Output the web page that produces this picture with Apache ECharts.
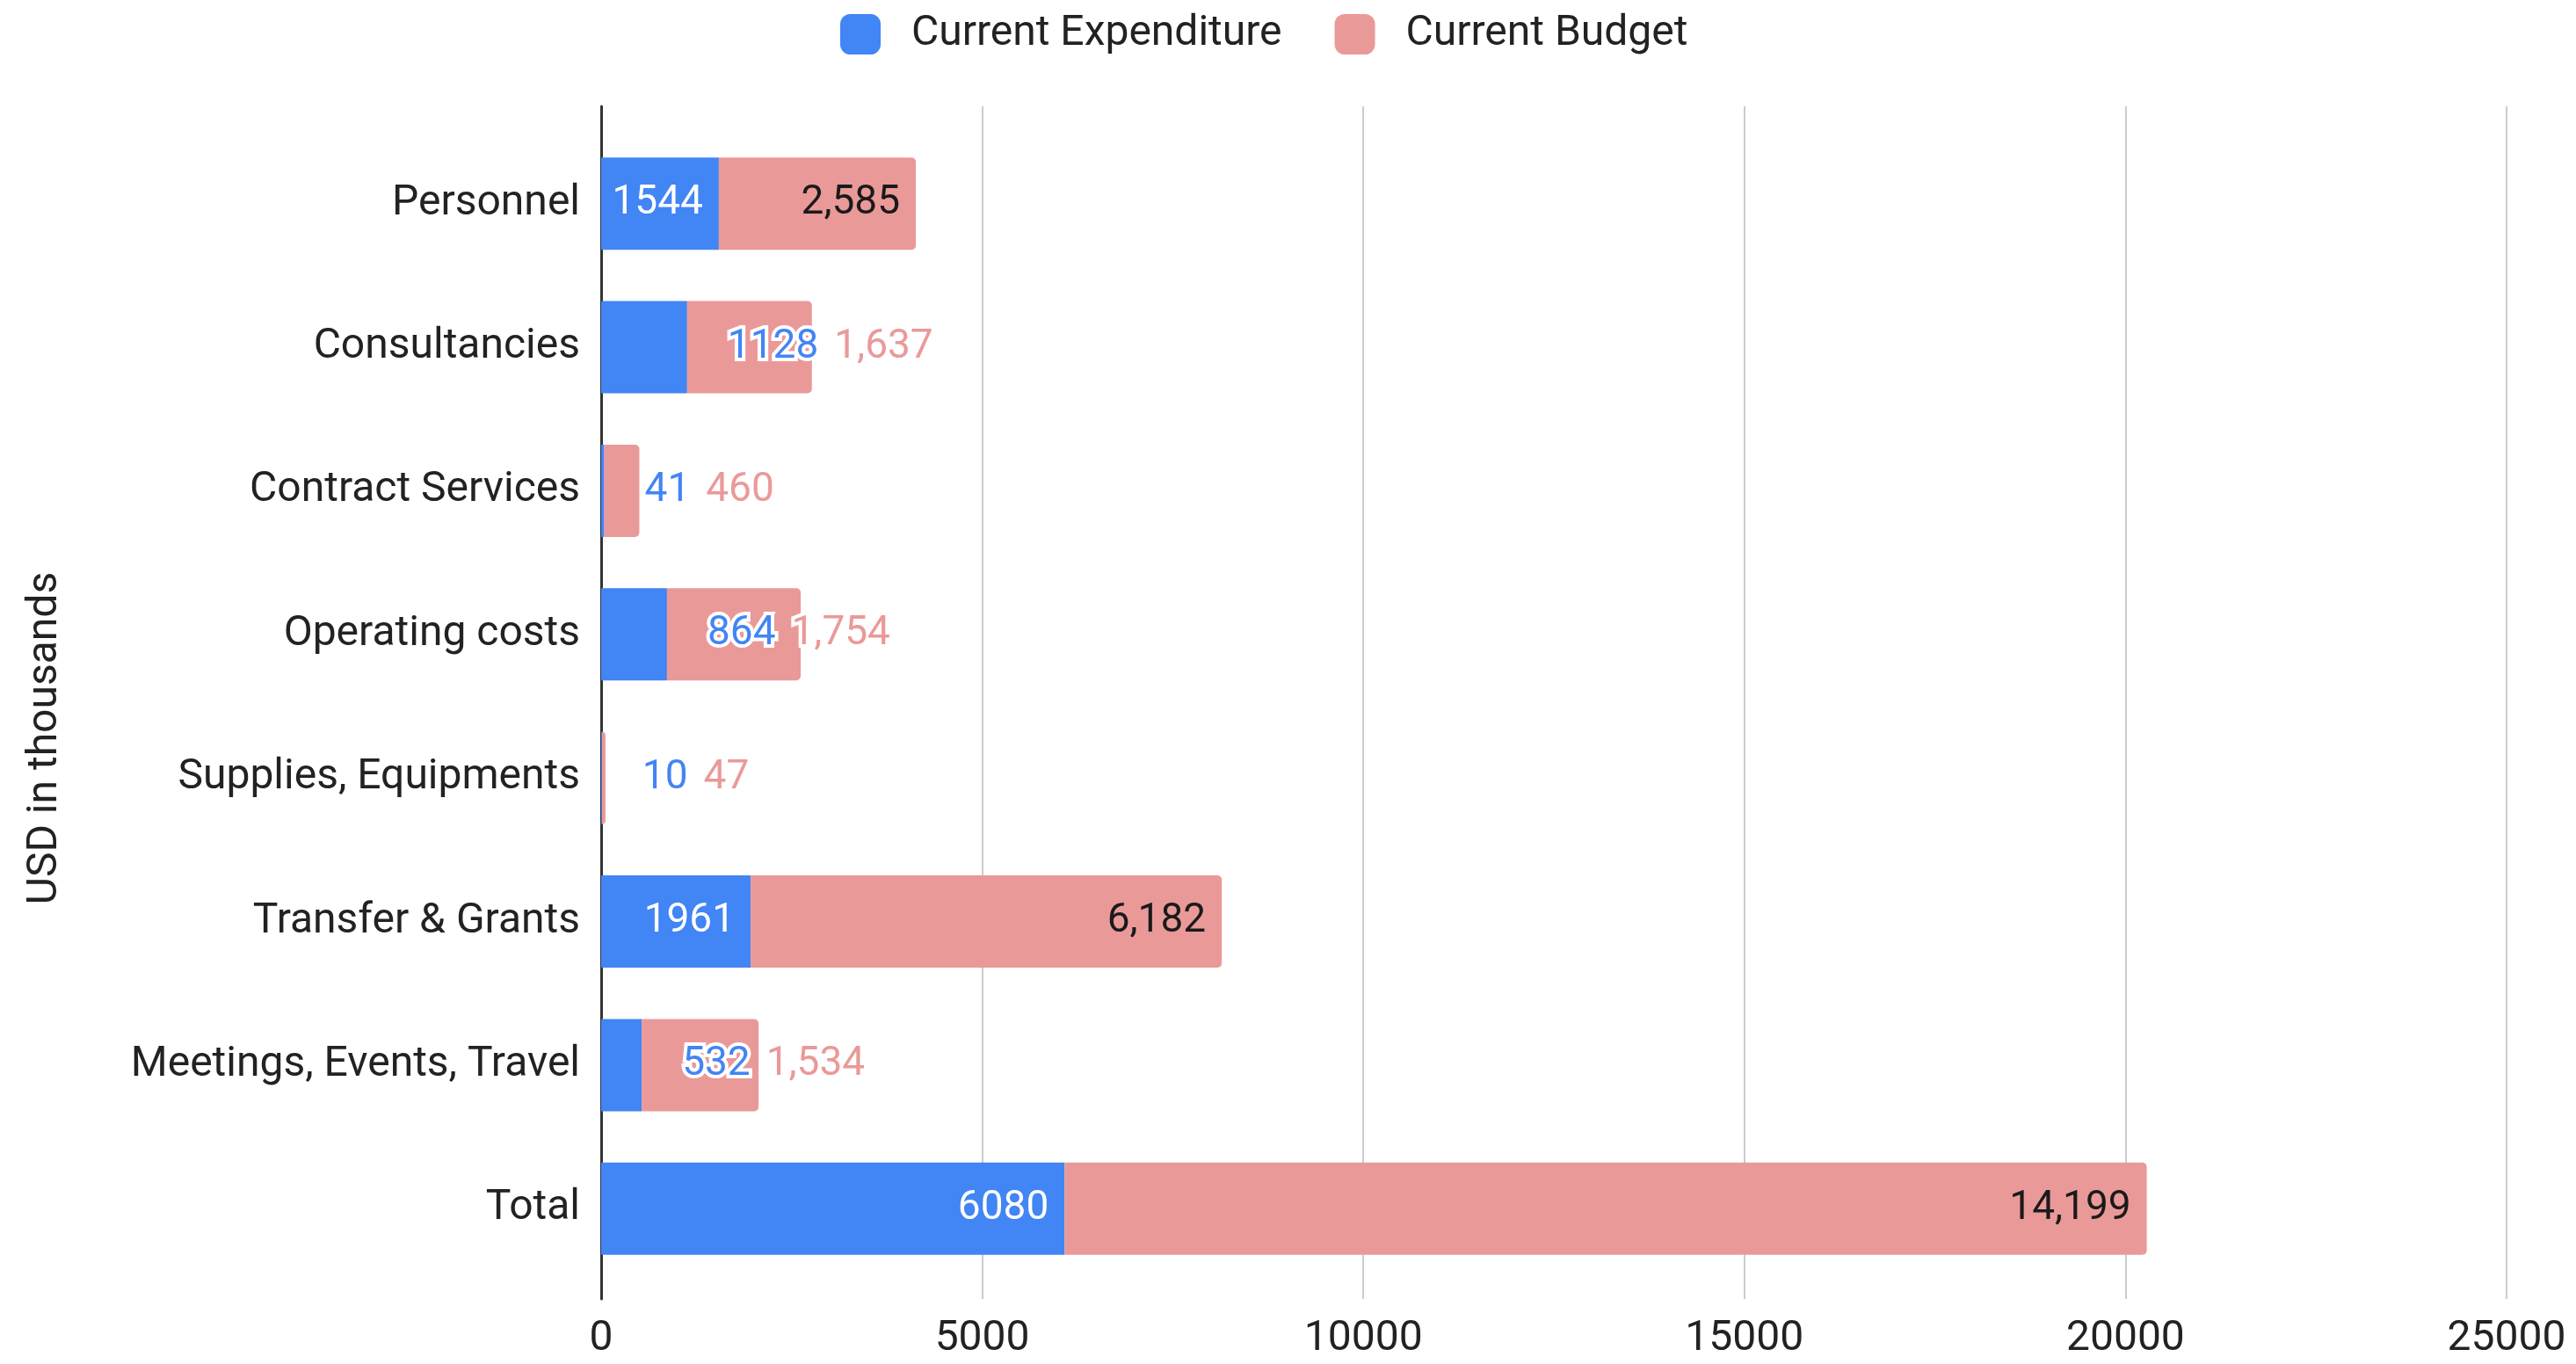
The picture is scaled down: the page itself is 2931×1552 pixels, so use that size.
<!DOCTYPE html>
<html>
<head>
    <meta charset="utf-8">
    <title>Expenditure vs Budget</title>
    <script src="https://cdn.jsdelivr.net/npm/echarts/dist/echarts.min.js"></script>
    <style>
        html, body { margin: 0; padding: 0; background: #fff; }
        #chart { width: 2931px; height: 1552px; }
    </style>
</head>
<body>
<div id="chart"></div>
<script>
    // 数据
    var categories = ['Personnel', 'Consultancies', 'Contract Services', 'Operating costs',
        'Supplies, Equipments', 'Transfer & Grants', 'Meetings, Events, Travel', 'Total'];
    var expenditure = [1544, 1128, 41, 864, 10, 1961, 532, 6080];
    var budget = [2585, 1637, 460, 1754, 47, 6182, 1534, 14199];
    var xTicks = [0, 5000, 10000, 15000, 20000, 25000];

    var BLUE = '#4285f4';
    var PINK = '#ea9999';
    var FONT = 'Roboto';

    var gridLeft = 684, gridRight = 79;
    var xMax = xTicks[xTicks.length - 1];
    var pxPerUnit = (2931 - gridLeft - gridRight) / xMax;

    // 量一下文字宽度，决定标签放在柱子里面还是外面
    var ctx = document.createElement('canvas').getContext('2d');
    ctx.font = '46px ' + FONT;
    function textW(s) { return ctx.measureText(s).width; }
    function fmtBudget(v) { return v.toLocaleString('en-US'); }
    function blueFits(i) {
        return expenditure[i] * pxPerUnit >= textW(String(expenditure[i])) + 24;
    }

    var expData = expenditure.map(function (v, i) {
        if (blueFits(i)) {
            return { value: v, label: { position: 'insideRight', distance: 18, color: '#fff' } };
        }
        // 放不下时，两个数值一起放在柱子右边
        return {
            value: v,
            label: {
                position: 'right',
                distance: 46,
                formatter: function (p) {
                    return '{e|' + p.value + '}{b|' + fmtBudget(budget[p.dataIndex]) + '}';
                }
            }
        };
    });
    var budData = budget.map(function (v, i) {
        return { value: v, label: { show: blueFits(i) } };
    });

    var myChart = echarts.init(document.getElementById('chart'));
    myChart.setOption({
        animation: false,
        backgroundColor: '#fff',
        textStyle: { fontFamily: FONT },
        legend: {
            left: 951,
            top: 10,
            itemWidth: 46,
            itemHeight: 46,
            itemGap: 60,
            icon: 'roundRect',
            textStyle: { fontSize: 48, color: '#222', fontFamily: FONT, padding: [0, 0, 0, 30] },
            data: ['Current Expenditure', 'Current Budget']
        },
        grid: [
            { left: gridLeft, right: gridRight, top: 121, bottom: 74 },
            { left: gridLeft, right: gridRight, top: 150, bottom: 95 }
        ],
        xAxis: [{
            gridIndex: 0,
            type: 'value',
            min: xTicks[0],
            max: xMax,
            interval: xTicks[1] - xTicks[0],
            axisLine: { show: false },
            axisTick: { show: false },
            axisLabel: {
                fontSize: 48, color: '#222', margin: 22, fontFamily: FONT,
                formatter: function (v) { return String(v); }
            },
            splitLine: { lineStyle: { color: '#cccccc', width: 2 } }
        }, {
            gridIndex: 1,
            type: 'value',
            min: xTicks[0],
            max: xMax,
            show: false
        }],
        yAxis: [{
            gridIndex: 0,
            type: 'category',
            data: [''],
            axisLine: { show: true, lineStyle: { color: '#333', width: 3 } },
            axisTick: { show: false },
            axisLabel: { show: false },
            splitLine: { show: false }
        }, {
            gridIndex: 1,
            type: 'category',
            inverse: true,
            data: categories,
            axisLine: { show: false },
            axisTick: { show: false },
            axisLabel: { fontSize: 48, color: '#222', margin: 24, fontFamily: FONT },
            splitLine: { show: false }
        }],
        graphic: [{
            type: 'text',
            x: 52,
            y: 840,
            rotation: Math.PI / 2,
            style: {
                text: 'USD in thousands',
                font: '48px ' + FONT,
                fill: '#222',
                align: 'center',
                verticalAlign: 'middle'
            }
        }],
        series: [{
            name: 'Current Expenditure',
            type: 'bar',
            stack: 'total',
            xAxisIndex: 1,
            yAxisIndex: 1,
            barWidth: 105,
            itemStyle: { color: BLUE },
            label: {
                show: true,
                fontSize: 46,
                fontFamily: FONT,
                color: BLUE,
                rich: {
                    e: { fontSize: 46, fontFamily: FONT, color: BLUE, textBorderColor: '#fff', textBorderWidth: 8 },
                    b: { fontSize: 46, fontFamily: FONT, color: PINK, textBorderColor: '#fff', textBorderWidth: 8, padding: [0, 0, 0, 18] }
                }
            },
            data: expData
        }, {
            name: 'Current Budget',
            type: 'bar',
            stack: 'total',
            xAxisIndex: 1,
            yAxisIndex: 1,
            barWidth: 105,
            itemStyle: { color: PINK, borderRadius: [0, 5, 5, 0] },
            label: {
                show: true,
                position: 'insideRight',
                distance: 18,
                fontSize: 46,
                fontFamily: FONT,
                color: '#1a1a1a',
                formatter: function (p) { return fmtBudget(p.value); }
            },
            data: budData
        }]
    });
</script>
</body>
</html>
